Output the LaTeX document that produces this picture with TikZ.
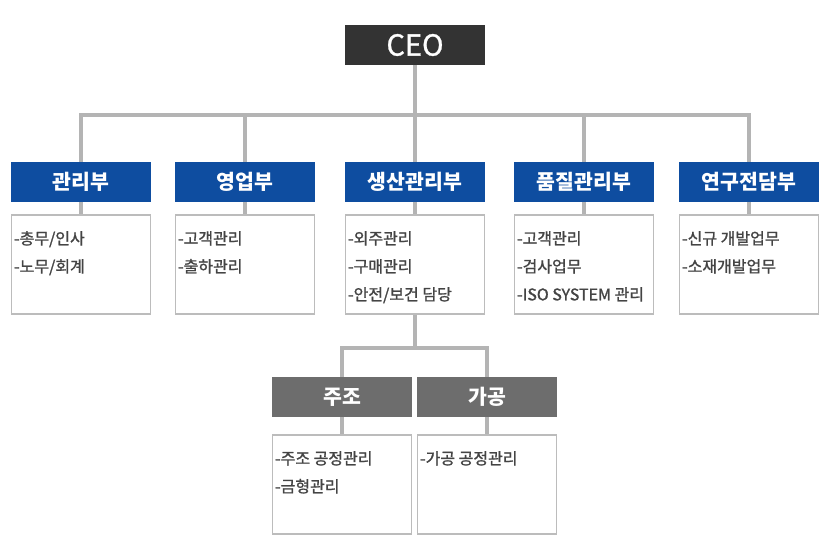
\documentclass[tikz,border=0pt]{standalone}
\usepackage{fontspec}
\setmainfont{Noto Sans CJK KR}
\newfontfamily\itemfont[FakeBold=1.2]{Noto Sans CJK KR}
\newfontfamily\ceofont[FakeBold=1]{Noto Sans CJK KR}
\definecolor{ceogray}{HTML}{333333}
\definecolor{deptblue}{HTML}{0E4DA0}
\definecolor{subgray}{HTML}{6D6D6D}
\definecolor{linkgray}{HTML}{B4B4B4}
\definecolor{framegray}{HTML}{BCBCBC}
\definecolor{itemgray}{HTML}{444444}
\tikzset{
  ceobox/.style={fill=ceogray, text=white, minimum width=140pt, minimum height=40pt,
    inner sep=0pt, font=\ceofont\fontsize{29}{30}\selectfont},
  deptbox/.style={fill=deptblue, text=white, minimum width=140pt, minimum height=40pt,
    inner sep=0pt, font=\fontsize{20.5}{22}\selectfont\bfseries},
  subbox/.style={deptbox, fill=subgray},
  taskbox/.style={draw=framegray, line width=1.2pt, fill=white, minimum width=139pt,
    minimum height=99pt, inner sep=0pt},
  tasks/.style={anchor=north west, inner sep=0pt, align=left, text=itemgray,
    font=\itemfont\fontsize{16}{28}\selectfont},
  link/.style={draw=linkgray, line width=4pt}
}
\begin{document}
\begin{tikzpicture}[x=1pt,y=-1pt]
  \useasboundingbox (0,0) rectangle (832,559);
  % top
  \node[ceobox] (ceo) at (415,45) {CEO};
  \coordinate (bus) at (0,115);
  % departments
  \node[deptbox] (d1) at (81,182) {관리부};
  \node[deptbox] (d2) at (245,182) {영업부};
  \node[deptbox] (d3) at (415,182) {생산관리부};
  \node[deptbox] (d4) at (584,182) {품질관리부};
  \node[deptbox] (d5) at (749,182) {연구전담부};
  \node[taskbox] (t1) at (81,264.5) {};
  \node[taskbox] (t2) at (245,264.5) {};
  \node[taskbox] (t3) at (415,264.5) {};
  \node[taskbox] (t4) at (584,264.5) {};
  \node[taskbox] (t5) at (749,264.5) {};
  \node[tasks] (l1) at ([shift={(3,16.5)}]t1.north west) {-총무/인사\\-노무/회계};
  \node[tasks] (l2) at ([shift={(3,16.5)}]t2.north west) {-고객관리\\-출하관리};
  \node[tasks] (l3) at ([shift={(3,16.5)}]t3.north west) {-외주관리\\-구매관리\\-안전/보건 담당};
  \node[tasks] (l4) at ([shift={(3,16.5)}]t4.north west) {-고객관리\\-검사업무\\-ISO SYSTEM 관리};
  \node[tasks] (l5) at ([shift={(3,16.5)}]t5.north west) {-신규 개발업무\\-소재개발업무};
  % production teams
  \coordinate (subbus) at (0,348);
  \node[subbox] (s1) at (342,397) {주조};
  \node[subbox] (s2) at (487,397) {가공};
  \node[taskbox] (u1) at (342,484.5) {};
  \node[taskbox] (u2) at (487,484.5) {};
  \node[tasks] (m1) at ([shift={(3,16.5)}]u1.north west) {-주조 공정관리\\-금형관리};
  \node[tasks] (m2) at ([shift={(3,16.5)}]u2.north west) {-가공 공정관리};
  % connectors
  \begin{scope}[link]
    \draw (ceo.south) -- (ceo.south |- bus);
    \draw ([xshift=-2pt]d1.north |- bus) -- ([xshift=2pt]d5.north |- bus);
    \foreach \d in {d1,d2,d3,d4,d5}
      \draw (\d.north) -- (\d.north |- bus);
    \foreach \d/\t in {d1/t1,d2/t2,d3/t3,d4/t4,d5/t5,s1/u1,s2/u2}
      \draw (\d.south) -- (\t.north);
    \draw (t3.south) -- (t3.south |- subbus);
    \draw ([xshift=-2pt]s1.north |- subbus) -- ([xshift=2pt]s2.north |- subbus);
    \draw (s1.north) -- (s1.north |- subbus);
    \draw (s2.north) -- (s2.north |- subbus);
  \end{scope}
\end{tikzpicture}
\end{document}
